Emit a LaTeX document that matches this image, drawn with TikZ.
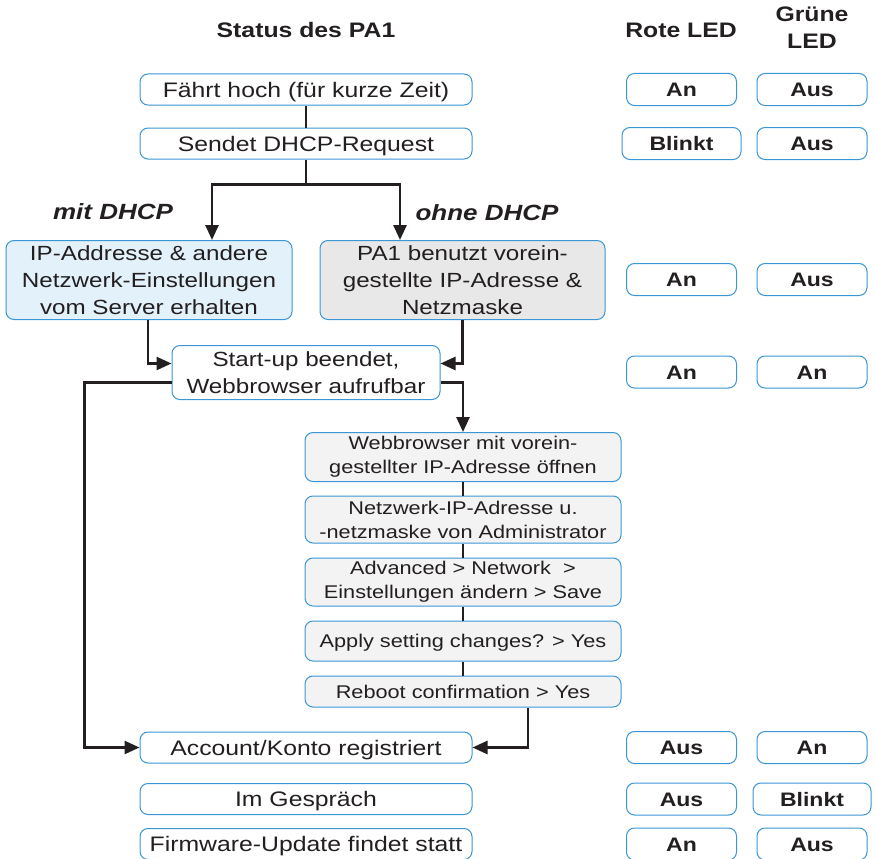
\documentclass[tikz,border=0pt]{standalone}
\usepackage{fontspec}
\setmainfont[FakeStretch=1.18]{Liberation Sans}
\usetikzlibrary{arrows.meta,calc}
\definecolor{bblue}{HTML}{3A96D4}
\definecolor{lblue}{HTML}{E3F1FB}
\definecolor{lgrey}{HTML}{E8E8E8}
\definecolor{vlgrey}{HTML}{F3F3F3}
\definecolor{ink}{HTML}{231F20}
\begin{document}
\begin{tikzpicture}[x=1pt,y=-1pt,
  every node/.style={text=ink},
  box/.style={draw=bblue, line width=1pt, rounded corners=8pt, align=center, inner sep=0pt, fill=white},
  wbox/.style={box, minimum width=332pt, minimum height=31pt, text height=15pt, text depth=0pt, font=\fontsize{21}{27}\selectfont},
  bigbox/.style={box, minimum width=285pt, minimum height=79pt, font=\fontsize{20.5}{27}\selectfont},
  gbox/.style={box, fill=vlgrey, minimum width=316pt, font=\fontsize{18.4}{24}\selectfont},
  gone/.style={gbox, text height=13pt, text depth=0pt},
  led/.style={box, minimum width=110pt, minimum height=32pt, text height=14pt, text depth=0pt, font=\bfseries\fontsize{19.5}{24}\selectfont},
  head/.style={font=\bfseries\fontsize{21}{27}\selectfont, align=center},
  lab/.style={font=\bfseries\itshape\fontsize{22}{27}\selectfont},
  conn/.style={draw=ink, line width=2.6pt},
  arr/.style={conn, -{Triangle[length=15pt,width=13pt]}}
]
\useasboundingbox (0,0) rectangle (876,859);
% headers
\node[head] (h1) at (306,30) {Status des PA1};
\node[head] (h2) at (681,30) {Rote LED};
\node[head] (h3) at (812,28) {Grüne\\LED};
% left column
\node[wbox] (b1) at (306,89.5) {Fährt hoch (für kurze Zeit)};
\node[wbox] (b2) at (306,143.5) {Sendet DHCP-Request};
\node[bigbox, fill=lblue, minimum width=286pt] (bl) at (149,280) {IP-Addresse \& andere\\Netzwerk-Einstellungen\\vom Server erhalten};
\node[bigbox, fill=lgrey] (br) at (462.5,280) {PA1 benutzt vorein-\\gestellte IP-Adresse \&\\Netzmaske};
\node[bigbox, minimum width=268pt, minimum height=54pt] (bs) at (306,372.5) {Start-up beendet,\\Webbrowser aufrufbar};
\node[gbox, minimum height=49pt] (g1) at (463,457) {Webbrowser mit vorein-\\gestellter IP-Adresse öffnen};
\node[gbox, minimum height=47pt] (g2) at (463,519.5) {Netzwerk-IP-Adresse u.\\-netzmaske von Administrator};
\node[gbox, minimum height=48pt] (g3) at (463,582) {Advanced > Network\ \ >\\Einstellungen ändern > Save};
\node[gone, minimum height=40pt] (g4) at (463,641) {Apply setting changes? > Yes};
\node[gone, minimum height=31pt] (g5) at (463,691.5) {Reboot confirmation > Yes};
\node[wbox] (ba) at (306,747.5) {Account/Konto registriert};
\node[wbox] (bg) at (306,799) {Im Gespräch};
\node[wbox] (bf) at (306,844) {Firmware-Update findet statt};
% labels
\node[lab] (l1) at (113,212) {mit DHCP};
\node[lab] (l2) at (487,213) {ohne DHCP};
% LEDs
\node[led] (r1) at (681.5,89.5) {An};
\node[led] (e1) at (812,89.5) {Aus};
\node[led, minimum width=119pt] (r2) at (681.5,143.5) {Blinkt};
\node[led] (e2) at (812,143.5) {Aus};
\node[led] (r3) at (681.5,279.5) {An};
\node[led] (e3) at (812,279.5) {Aus};
\node[led] (r4) at (681.5,372) {An};
\node[led] (e4) at (812,372) {An};
\node[led] (r5) at (681.5,747.5) {Aus};
\node[led] (e5) at (812,747.5) {An};
\node[led] (r6) at (681.5,799) {Aus};
\node[led, minimum width=118pt] (e6) at (812,799) {Blinkt};
\node[led] (r7) at (681.5,844) {An};
\node[led] (e7) at (812,844) {Aus};
% connectors
\draw[conn] (b1.south) -- (b2.north);
\coordinate (split) at ($(b2.south)+(0,25)$);
\draw[conn] (b2.south) -- (split);
\draw[arr] (split) -| ($(bl.north)+(63,0)$);
\draw[arr] (split) -| ($(br.north)+(-62.5,0)$);
\draw[arr] ($(bl.south)+(-1,0)$) |- ($(bs.west)+(0,-9)$);
\draw[arr] (br.south) |- ($(bs.east)+(0,-9)$);
\draw[arr] ($(bs.west)+(0,10)$) -- ++(-87,0) |- (ba.west);
\draw[arr] ($(bs.east)+(0,10)$) -| (g1.north);
\draw[conn] (g1.south) -- (g2.north);
\draw[conn] (g2.south) -- (g3.north);
\draw[conn] (g3.south) -- (g4.north);
\draw[conn] (g4.south) -- (g5.north);
\draw[arr] ($(g5.south)+(65,0)$) |- (ba.east);
\end{tikzpicture}
\end{document}
